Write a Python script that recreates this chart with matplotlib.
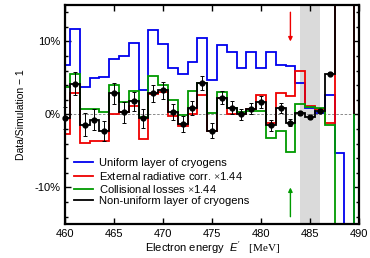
"""Data/simulation ratio vs electron energy, with model variants."""

import matplotlib.pyplot as plt
import numpy as np
from matplotlib.lines import Line2D
from matplotlib.ticker import MultipleLocator


# bin centres in MeV (1 MeV bins)
BINS = np.arange(460, 490)

# model / simulation - 1, in percent, one value per bin
UNIFORM = [6.8, 11.7, 3.8, 5.0, 5.1, 7.6, 8.0, 9.8, 3.3, 11.6,
           9.6, 6.4, 5.5, 7.2, 10.5, 4.7, 9.5, 8.5, 6.3, 8.6,
           6.3, 8.6, 6.8, 6.6, 4.3, 0.9, 0.2, 2.6, -5.3, -20.0]
RADIATIVE = [-2.7, 3.0, -3.9, -3.6, -3.6, 0.0, 0.3, 1.1, -3.4, 2.8,
             3.1, -0.2, -1.6, 0.0, 2.6, -2.3, 2.3, 0.1, 0.0, 0.8,
             2.6, -1.2, 3.0, 2.5, 6.0, 1.1, 0.7, -1.1, 20.0, 20.0]
COLLISIONAL = [3.7, 5.5, 0.7, 0.7, 0.3, 4.1, 1.7, 3.2, -0.3, 5.3,
               4.0, 2.0, -0.1, 3.2, 4.3, 0.2, 3.1, 0.9, 0.4, 0.45,
               0.45, -3.2, -2.2, -5.2, 1.4, 1.0, 0.9, -1.5, -20.0, -20.0]
NONUNIFORM = [-0.45, 4.2, -1.4, -0.7, -2.3, 2.9, 0.3, 1.8, -0.5, 2.9,
              3.3, 0.4, -1.3, 0.9, 4.3, -2.2, 2.3, 0.9, 0.0, 0.8,
              1.7, -1.5, 0.9, -1.1, 0.2, -0.4, 0.5, 5.6, 20.0, 20.0]

# measured points
DATA_E = np.arange(460, 488)
DATA = [-0.45, 4.2, -1.4, -0.7, -2.3, 2.9, 0.3, 1.8, -0.5, 2.9,
        3.3, 0.4, -1.3, 0.9, 4.3, -2.2, 2.3, 0.9, 0.0, 0.8,
        1.7, -1.5, 0.9, -1.1, 0.2, -0.4, 0.5, 5.6]
DATA_ERR = [1.5, 1.6, 1.6, 1.4, 1.4, 1.4, 1.4, 1.3, 1.3, 1.2,
            1.2, 1.1, 1.1, 1.0, 1.0, 1.0, 0.9, 0.9, 0.8, 0.8,
            0.8, 0.7, 0.7, 0.5, 0.3, 0.2, 0.2, 0.2]

LABELS = [
    "Uniform layer of cryogens",
    "External radiative corr. $\\times$1.44",
    "Collisional losses $\\times$1.44",
    "Non-uniform layer of cryogens",
]
EXCLUDED = (484, 486)
ARROW_E = 483

plt.rcParams.update({
    "font.family": "Liberation Sans",
    "font.size": 8,
    "mathtext.fontset": "custom",
    "mathtext.rm": "Liberation Serif",
    "mathtext.it": "Liberation Sans:italic",
})

fig = plt.figure(figsize=(3.7, 2.58), dpi=100)
ax = fig.add_axes([0.1757, 0.1318, 0.7946, 0.849])

edges = np.append(BINS - 0.5, BINS[-1] + 0.5)

ax.axvspan(*EXCLUDED, color="#dadada", lw=0, zorder=0)
ax.axhline(0, color="#777777", lw=0.6, ls=(0, (3, 2)), zorder=1)

colors = ["#0000ee", "#ee0000", "#009a00", "black"]
series = [UNIFORM, RADIATIVE, COLLISIONAL, NONUNIFORM]
for vals, c in zip(series, colors):
    ax.stairs(vals, edges, color=c, lw=1.3, zorder=2)

ax.errorbar(DATA_E, DATA, yerr=DATA_ERR, fmt="o", color="black",
            ms=3.5, elinewidth=0.7, capsize=1.5, capthick=0.7,
            zorder=4, clip_on=False)

ax.annotate("", xy=(ARROW_E, 10), xytext=(ARROW_E, 14),
            arrowprops=dict(arrowstyle="-|>", color="#ee0000", lw=1,
                            mutation_scale=6, shrinkA=0, shrinkB=0))
ax.annotate("", xy=(ARROW_E, -10), xytext=(ARROW_E, -14),
            arrowprops=dict(arrowstyle="-|>", color="#009a00", lw=1,
                            mutation_scale=6, shrinkA=0, shrinkB=0))

ax.set_xlim(460, 490)
ax.set_ylim(-15, 15)
ax.set_xticks(np.arange(460, 491, 5))
ax.set_yticks([-10, 0, 10], labels=["-10%", "0%", "10%"])
ax.yaxis.set_minor_locator(MultipleLocator(2))
ax.tick_params(which="both", direction="in", top=True, right=True,
               width=1)
ax.tick_params(which="major", length=4)
ax.tick_params(which="minor", length=2)
for s in ax.spines.values():
    s.set_linewidth(1.6)

ax.set_xlabel(r"Electron energy  $E'$   $\mathrm{[MeV]}$", labelpad=0.5)
ax.set_ylabel("Data/Simulation \u2212 1", labelpad=6, fontsize=7.5)

handles = [Line2D([], [], color=c, lw=1.3) for c in colors]
ax.legend(handles, LABELS, loc="lower left", bbox_to_anchor=(0.0, 0.04),
          frameon=False, handlelength=1.7, handletextpad=0.6,
          labelspacing=0.12, borderpad=0.3)

fig.savefig("out.png", dpi=100)
